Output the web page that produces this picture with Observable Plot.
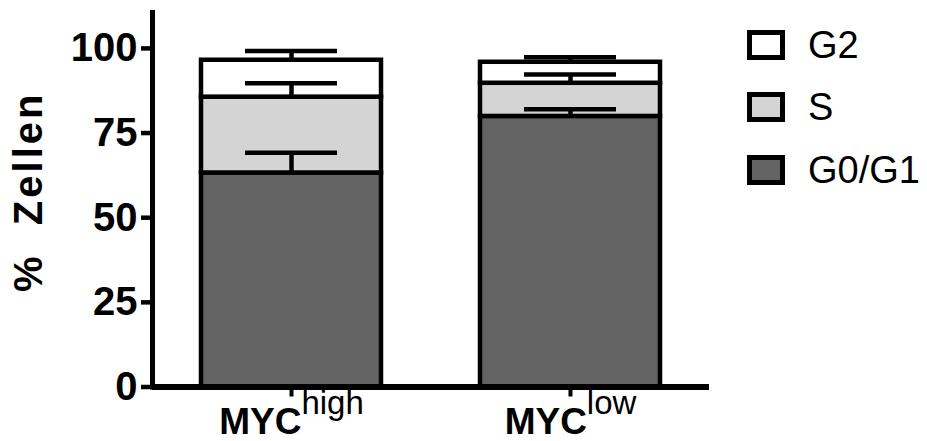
<!DOCTYPE html>
<html><head><meta charset="utf-8">
<script src="https://cdn.jsdelivr.net/npm/d3@7"></script>
<script src="https://cdn.jsdelivr.net/npm/@observablehq/plot@0.6"></script>
<style>
html,body{margin:0;padding:0;background:#fff;}
#wrap{position:relative;width:927px;height:441px;font-family:"Liberation Sans",Arial,sans-serif;color:#000;}
.item{position:absolute;left:747px;display:flex;align-items:center;white-space:nowrap;height:30px;}
.sw{box-sizing:border-box;width:38px;height:30px;border:5px solid #000;}
.lab{font-size:38px;line-height:30px;margin-left:23px;}
</style></head><body><div id="wrap"></div>
<script>
// ---- data ----
const groups = ["MYChigh", "MYClow"];
const groupBase = ["MYC", "MYC"];
const groupSup = ["high", "low"];
const phases = ["G0/G1", "S", "G2"];
const phaseColors = ["#636363", "#d4d4d4", "#ffffff"];
const g0g1Mean = [63.2, 79.9];
const sMean = [22.4, 9.8];
const g2Mean = [10.9, 6.2];
const g0g1Err = [6.0, 2.1];
const sErr = [4.1, 2.6];
const g2Err = [2.7, 1.5];
const yTicks = [0, 25, 50, 75, 100];
const yTitle = "%\u00a0\u00a0Zellen";
const legendOrder = ["G2", "S", "G0/G1"];

// ---- tables built from the arrays ----
const means = [g0g1Mean, sMean, g2Mean];
const errs = [g0g1Err, sErr, g2Err];
const rows = [];
const errRows = [];
groups.forEach((g, i) => {
  let cum = 0;
  phases.forEach((p, j) => {
    rows.push({group: g, phase: p, value: means[j][i]});
    cum += means[j][i];
    errRows.push({group: g, phase: p, top: cum, cap: cum + errs[j][i]});
  });
});

const chart = Plot.plot({
  width: 927,
  height: 441,
  marginLeft: 152,
  marginRight: 218,
  marginTop: 12,
  marginBottom: 54.5,
  style: {fontFamily: '"Liberation Sans", Arial, sans-serif', background: "white", color: "black", overflow: "visible"},
  x: {domain: groups, paddingInner: 0.355, paddingOuter: 0.174, axis: null},
  y: {domain: [0, 110.6], axis: null},
  color: {domain: phases, range: phaseColors},
  marks: [
    Plot.barY(rows, {x: "group", y: "value", fill: "phase", order: phases, stroke: "black", strokeWidth: 4.5}),
    Plot.ruleX(errRows, {x: "group", y1: "top", y2: "cap", stroke: "black", strokeWidth: 4.5}),
    Plot.tickY(errRows, {x: "group", y: "cap", stroke: "black", strokeWidth: 4.5, insetLeft: 44, insetRight: 44}),
    Plot.ruleY([0], {stroke: "black", strokeWidth: 6}),
    Plot.frame({anchor: "left", stroke: "black", strokeWidth: 5}),
    Plot.axisY({ticks: yTicks, tickSize: 11, tickPadding: 4, strokeWidth: 4.5, fontSize: 40, fontWeight: "bold", label: null}),
    Plot.axisX({tickSize: 10, tickPadding: 11, strokeWidth: 4, fontSize: 37, fontWeight: "bold", label: null}),
    Plot.text([yTitle], {frameAnchor: "left", rotate: -90, dx: -123, dy: -8, fontSize: 40, fontWeight: "bold", lineAnchor: "middle", textAnchor: "middle"})
  ]
});

// superscript labels and title spacing
d3.select(chart).selectAll("text").each(function() {
  const t = d3.select(this);
  const s = this.textContent;
  const i = groups.indexOf(s);
  if (i >= 0) {
    t.text(null);
    t.append("tspan").attr("font-weight", "bold").attr("font-size", 37).text(groupBase[i]);
    t.append("tspan").attr("font-weight", "normal").attr("font-size", 33).attr("dy", -20).text(groupSup[i]);
  } else if (s === yTitle) {
    t.style("letter-spacing", "3px");
  }
});

const wrap = document.getElementById("wrap");
wrap.appendChild(chart);
const legendTops = [30, 92, 155];
legendOrder.forEach((p, k) => {
  const item = document.createElement("div");
  item.className = "item";
  item.style.top = legendTops[k] + "px";
  const sw = document.createElement("div");
  sw.className = "sw";
  sw.style.background = phaseColors[phases.indexOf(p)];
  const lab = document.createElement("div");
  lab.className = "lab";
  lab.textContent = p;
  item.appendChild(sw);
  item.appendChild(lab);
  wrap.appendChild(item);
});
</script></body></html>
